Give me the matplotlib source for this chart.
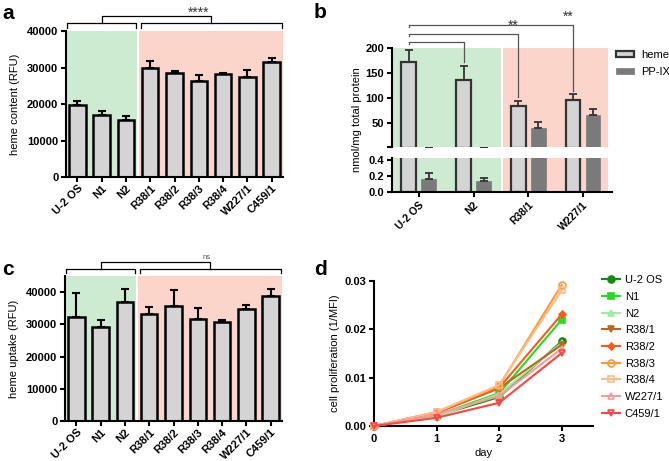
import numpy as np
import matplotlib
matplotlib.use('Agg')
import matplotlib.pyplot as plt

plt.rcParams['font.family'] = ['Liberation Sans', 'DejaVu Sans']

# ---- data ----
cells = ['U-2 OS', 'N1', 'N2', 'R38/1', 'R38/2', 'R38/3', 'R38/4', 'W227/1', 'C459/1']
heme_content = [19800, 16950, 15500, 30000, 28400, 26300, 28250, 27450, 31450]
heme_content_err = [900, 1000, 1280, 1730, 640, 1730, 360, 1730, 1270]
heme_uptake = [32400, 29100, 36800, 33100, 35800, 31650, 30750, 34850, 38750]
heme_uptake_err = [7400, 2200, 4100, 2400, 4850, 3500, 700, 1050, 2150]

b_cells = ['U-2 OS', 'N2', 'R38/1', 'W227/1']
b_heme = [173, 136, 83.5, 97]
b_heme_err = [23.5, 28, 11, 11]
b_ppix = [0.16, 0.14, 41.3, 66]
b_ppix_err = [0.07, 0.03, 11.5, 13]

days = [0, 1, 2, 3]
d_u2os = [0, 0.0021, 0.0060, 0.0175]
d_n1 = [0, 0.0022, 0.0068, 0.0220]
d_n2 = [0, 0.0019, 0.0066, 0.0172]
d_r381 = [0, 0.0027, 0.0078, 0.0168]
d_r382 = [0, 0.0028, 0.0079, 0.0231]
d_r383 = [0, 0.0029, 0.0083, 0.0292]
d_r384 = [0, 0.0029, 0.0085, 0.0281]
d_w2271 = [0, 0.0024, 0.0062, 0.0160]
d_c4591 = [0, 0.0017, 0.0048, 0.0151]

GREEN = '#cdebd0'
RED = '#fbd5ca'
BARC = '#d4d4d4'
W, H = 669, 461


def axbox(l, t, r, b):
    return [l / W, 1 - b / H, (r - l) / W, (b - t) / H]


def style(ax):
    for s in ['top', 'right']:
        ax.spines[s].set_visible(False)
    for s in ['left', 'bottom']:
        ax.spines[s].set_linewidth(1.5)
    ax.tick_params(width=1.5, length=3.5, labelsize=8, pad=2)
    for lab in ax.get_yticklabels():
        lab.set_fontweight('bold')


def bracket(ax, x0, x1, y_top, y_bot):
    tr = ax.get_xaxis_transform()
    ax.plot([x0, x0, x1, x1], [y_bot, y_top, y_top, y_bot], color='k', lw=0.9,
            transform=tr, clip_on=False)


fig = plt.figure(figsize=(6.69, 4.61), dpi=100)

# ---- panel a / c ----
def bar_panel(box, vals, errs, ylim, ylabel, sig, sig_size, sig_color, ybr):
    ax = fig.add_axes(box)
    x = np.arange(len(cells))
    ax.axvspan(-0.6, 2.47, color=GREEN, lw=0, zorder=0)
    ax.axvspan(2.55, 8.6, color=RED, lw=0, zorder=0)
    ax.bar(x, vals, width=0.68, color=BARC, edgecolor='k', linewidth=1.8, zorder=2,
           yerr=[np.zeros(len(vals)), errs],
           error_kw=dict(ecolor='k', elinewidth=1.5, capsize=3, capthick=1.5, zorder=3))
    ax.set_xlim(-0.47, 8.47)
    ax.set_ylim(*ylim)
    ax.set_yticks(np.arange(0, 40001, 10000))
    ax.set_xticks(x)
    ax.set_xticklabels(cells, rotation=45, ha='right', rotation_mode='anchor',
                       fontweight='bold', fontsize=7.3)
    ax.set_ylabel(ylabel, fontsize=8, labelpad=5)
    style(ax)
    ax.tick_params(axis='x', pad=1)
    t, m, b = ybr
    bracket(ax, -0.42, 2.42, m, b)
    bracket(ax, 2.63, 8.42, m, b)
    bracket(ax, 1.0, 5.52, t, m)
    ax.text(sig[0], sig[1], sig[2], transform=ax.get_xaxis_transform(),
            ha='center', va='bottom', fontsize=sig_size, color=sig_color)
    return ax

ax_a = bar_panel(axbox(66, 31, 283, 177), heme_content, heme_content_err, (0, 40000),
                 'heme content (RFU)', (5.0, 1.075, '****'), 10, '#333333',
                 (1.103, 1.057, 1.018))
ax_c = bar_panel(axbox(65, 276, 282, 421), heme_uptake, heme_uptake_err, (0, 45000),
                 'heme uptake (RFU)', (5.35, 1.105, 'ns'), 5.5, '#555555',
                 (1.094, 1.046, 1.018))

# ---- panel b (broken axis) ----
ax_bt = fig.add_axes(axbox(392, 48, 612, 147))
ax_bb = fig.add_axes(axbox(392, 158, 612, 192), sharex=ax_bt)
xb = np.arange(len(b_cells))
off, bw = 0.183, 0.27
for ax in (ax_bt, ax_bb):
    ax.axvspan(-0.6, 1.5, color=GREEN, lw=0, zorder=0)
    ax.axvspan(1.54, 3.46, color=RED, lw=0, zorder=0)
    hb = ax.bar(xb - off, b_heme, width=bw, color=BARC, edgecolor='#333333', linewidth=1.6,
                zorder=2, label='heme', yerr=[np.zeros(4), b_heme_err],
                error_kw=dict(ecolor='#333333', elinewidth=1.3, capsize=3, capthick=1.3))
    pb = ax.bar(xb + off, b_ppix, width=bw, color='#7a7a7a', edgecolor='#7a7a7a',
                linewidth=0.5, zorder=2, label='PP-IX', yerr=[np.zeros(4), b_ppix_err],
                error_kw=dict(ecolor='#333333', elinewidth=1.3, capsize=3, capthick=1.3))
    style(ax)
ax_bt.set_xlim(-0.49, 3.53)
ax_bt.set_ylim(2.5, 200)
ax_bt.set_yticks([2.5, 50, 100, 150, 200])
ax_bt.set_yticklabels(['', '50', '100', '150', '200'], fontweight='bold')
ax_bt.spines['bottom'].set_visible(False)
ax_bt.tick_params(axis='x', which='both', bottom=False, labelbottom=False)
ax_bb.set_ylim(0, 0.42)
ax_bb.set_yticks([0, 0.2, 0.4])
ax_bb.set_yticklabels(['0.0', '0.2', '0.4'], fontweight='bold')
ax_bb.set_xticks(xb)
ax_bb.set_xticklabels(b_cells, rotation=45, ha='right', rotation_mode='anchor',
                      fontweight='bold', fontsize=7.5)
fig.text(357 / W, 1 - 120 / H, 'nmol/mg total protein', rotation=90, fontsize=8,
         ha='center', va='center')

# significance lines in panel b
gray = '#555555'
x_left = -off
for ytop, xr, ybot in [(211.4, 1 - off, 172), (228.1, 2 - off, 103), (246.2, 3 - off, 115)]:
    ax_bt.plot([x_left, x_left], [ytop, ytop - 4], color=gray, lw=0.9, clip_on=False)
    ax_bt.plot([x_left, xr, xr], [ytop, ytop, ybot], color=gray, lw=0.9, clip_on=False)
ax_bt.text(2 - off + 0.01, 230.5, '**', ha='right', va='bottom', fontsize=10, color='#333333')
ax_bt.text(3 - off + 0.01, 248.5, '**', ha='right', va='bottom', fontsize=10, color='#333333')
ax_bt.legend(handles=[hb, pb], loc='upper left', bbox_to_anchor=(1.02, 0.98), frameon=False,
             fontsize=8, handlelength=1.6, handleheight=0.5, labelspacing=0.6,
             handletextpad=0.65, borderaxespad=0, borderpad=0)

# ---- panel d ----
ax_d = fig.add_axes(axbox(374, 281, 593, 426))
series = [
    ('U-2 OS', d_u2os, '#138a13', 'o', True),
    ('N1', d_n1, '#22dd22', 's', True),
    ('N2', d_n2, '#9aeea0', '^', True),
    ('R38/1', d_r381, '#c0651e', 'v', True),
    ('R38/2', d_r382, '#ff5a14', 'D', True),
    ('R38/3', d_r383, '#ff9933', 'o', False),
    ('R38/4', d_r384, '#ffbb88', 's', False),
    ('W227/1', d_w2271, '#ff9999', '^', False),
    ('C459/1', d_c4591, '#ff4444', 'v', False),
]
for name, vals, col, mk, filled in series:
    ms = 3.5 if mk == 'D' else 5
    ax_d.plot(days, vals, color=col, marker=mk, ms=ms, lw=1.5, label=name,
              mfc=col if filled else 'none', mec=col, mew=1.2, clip_on=False, zorder=3)
ax_d.set_xlim(0, 3.5)
ax_d.set_ylim(0, 0.03)
ax_d.set_xticks([0, 1, 2, 3])
ax_d.set_yticks([0, 0.01, 0.02, 0.03])
ax_d.set_yticklabels(['0.00', '0.01', '0.02', '0.03'])
ax_d.set_xlabel('day', fontsize=8, labelpad=3)
ax_d.set_ylabel('cell proliferation (1/MFI)', fontsize=8, labelpad=3)
style(ax_d)
for lab in ax_d.get_xticklabels():
    lab.set_fontweight('bold')
ax_d.legend(loc='upper left', bbox_to_anchor=(1.041, 1.04), frameon=False, fontsize=8,
            handlelength=1.6, labelspacing=0.6, handletextpad=0.45, borderaxespad=0,
            borderpad=0)

# ---- panel letters ----
for x, y, s in [(2, 4, 'a'), (314, 3, 'b'), (2, 260, 'c'), (314, 260, 'd')]:
    fig.text(x / W, 1 - y / H, s, fontsize=15, fontweight='bold', va='top', ha='left')

fig.savefig('out.png', dpi=100)
